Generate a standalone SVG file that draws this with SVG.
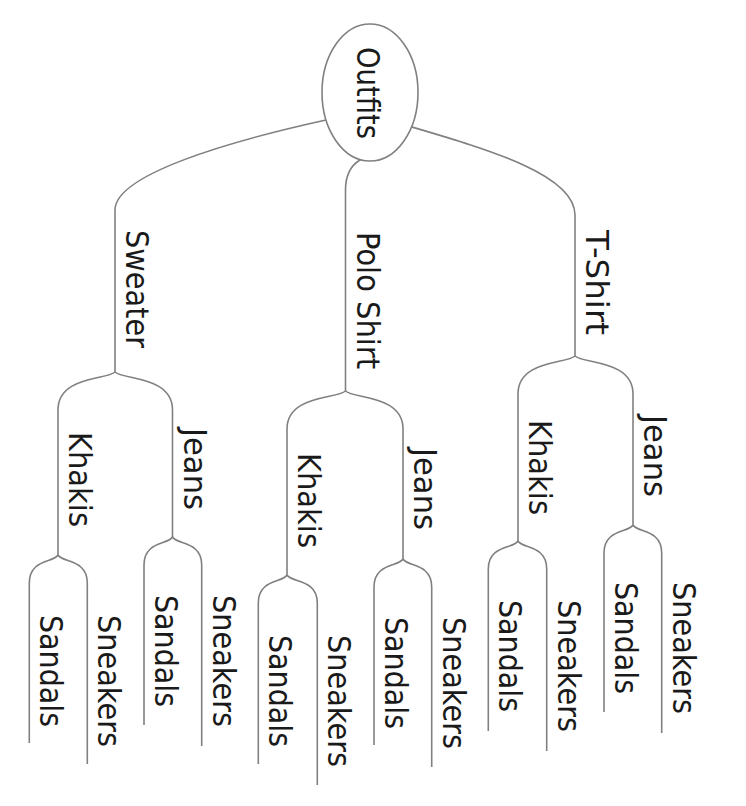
<svg xmlns="http://www.w3.org/2000/svg" width="746" height="806" viewBox="0 0 746 806">
<style>
.bg{fill:#ffffff}
.edge{fill:none;stroke:#808080;stroke-width:1.6}
.node-shape{fill:#ffffff;stroke:#808080;stroke-width:1.6}
.lbl{font-family:"DejaVu Sans","Liberation Sans",sans-serif;font-size:32px;fill:#1a1a1a}
</style>
<rect class="bg" x="0" y="0" width="746" height="806"/>
<g id="connectors">
<path class="edge" d="M326,120 C226,142 115,175 115,210 L115,372"/>
<path class="edge" d="M360,160 C350,166 345.5,175 345.5,190 L345.5,391"/>
<path class="edge" d="M412,127 C490,150 575,175 575,215 L575,356"/>
<path class="edge" d="M115,372 C106.4,380 58,376 58,410 L58,555"/>
<path class="edge" d="M115,372 C123.6,380 172.5,376 172.5,410 L172.5,537"/>
<path class="edge" d="M345.5,391 C336.7,399 287,395 287,429 L287,575"/>
<path class="edge" d="M345.5,391 C354.1,399 403,395 403,429 L403,559"/>
<path class="edge" d="M575,356 C566.5,364 518,360 518,394 L518,541"/>
<path class="edge" d="M575,356 C583.7,364 633,360 633,394 L633,525"/>
<path class="edge" d="M58,555 C53.6,563 29.3,559 29.3,583 L29.3,743"/>
<path class="edge" d="M58,555 C62.4,563 87.3,559 87.3,583 L87.3,764"/>
<path class="edge" d="M172.5,537 C168.2,545 144,541 144,565 L144,725"/>
<path class="edge" d="M172.5,537 C176.8,545 201.7,541 201.7,565 L201.7,746"/>
<path class="edge" d="M287,575 C282.7,583 258.3,579 258.3,603 L258.3,764"/>
<path class="edge" d="M287,575 C291.5,583 317.3,579 317.3,603 L317.3,785"/>
<path class="edge" d="M403,559 C398.6,567 374,563 374,587 L374,745"/>
<path class="edge" d="M403,559 C407.3,567 431.7,563 431.7,587 L431.7,767"/>
<path class="edge" d="M518,541 C513.5,549 488.3,545 488.3,569 L488.3,731"/>
<path class="edge" d="M518,541 C522.3,549 546.7,545 546.7,569 L546.7,751"/>
<path class="edge" d="M633,525 C628.6,533 604,529 604,553 L604,712"/>
<path class="edge" d="M633,525 C637.3,533 661.7,529 661.7,553 L661.7,733"/>
</g>
<g id="outfits">
<ellipse class="node-shape" cx="370" cy="92.5" rx="48" ry="68.5"/>
<text class="lbl" transform="translate(357,47) rotate(90)" textLength="92" lengthAdjust="spacingAndGlyphs">Outfits</text>
</g>
<g id="sweater"><text class="lbl" transform="translate(126,230) rotate(90)" textLength="118" lengthAdjust="spacingAndGlyphs">Sweater</text></g>
<g id="polo-shirt"><text class="lbl" transform="translate(356.5,232) rotate(90)" textLength="137" lengthAdjust="spacingAndGlyphs">Polo Shirt</text></g>
<g id="t-shirt"><text class="lbl" transform="translate(586,230) rotate(90)" textLength="105" lengthAdjust="spacingAndGlyphs">T-Shirt</text></g>
<g id="sweater-khakis"><text class="lbl" transform="translate(69,432) rotate(90)" textLength="95" lengthAdjust="spacingAndGlyphs">Khakis</text></g>
<g id="sweater-jeans"><text class="lbl" transform="translate(184,428) rotate(90)" textLength="82" lengthAdjust="spacingAndGlyphs">Jeans</text></g>
<g id="polo-khakis"><text class="lbl" transform="translate(298,453) rotate(90)" textLength="95" lengthAdjust="spacingAndGlyphs">Khakis</text></g>
<g id="polo-jeans"><text class="lbl" transform="translate(414,448) rotate(90)" textLength="82" lengthAdjust="spacingAndGlyphs">Jeans</text></g>
<g id="tshirt-khakis"><text class="lbl" transform="translate(529,420) rotate(90)" textLength="95" lengthAdjust="spacingAndGlyphs">Khakis</text></g>
<g id="tshirt-jeans"><text class="lbl" transform="translate(644,415) rotate(90)" textLength="82" lengthAdjust="spacingAndGlyphs">Jeans</text></g>
<g id="sweater-khakis-sandals"><text class="lbl" transform="translate(40,615) rotate(90)" textLength="112" lengthAdjust="spacingAndGlyphs">Sandals</text></g>
<g id="sweater-khakis-sneakers"><text class="lbl" transform="translate(98,615) rotate(90)" textLength="132" lengthAdjust="spacingAndGlyphs">Sneakers</text></g>
<g id="sweater-jeans-sandals"><text class="lbl" transform="translate(155,595) rotate(90)" textLength="112" lengthAdjust="spacingAndGlyphs">Sandals</text></g>
<g id="sweater-jeans-sneakers"><text class="lbl" transform="translate(212.7,595) rotate(90)" textLength="132" lengthAdjust="spacingAndGlyphs">Sneakers</text></g>
<g id="polo-khakis-sandals"><text class="lbl" transform="translate(269.3,635) rotate(90)" textLength="112" lengthAdjust="spacingAndGlyphs">Sandals</text></g>
<g id="polo-khakis-sneakers"><text class="lbl" transform="translate(328.3,635) rotate(90)" textLength="132" lengthAdjust="spacingAndGlyphs">Sneakers</text></g>
<g id="polo-jeans-sandals"><text class="lbl" transform="translate(385,617) rotate(90)" textLength="112" lengthAdjust="spacingAndGlyphs">Sandals</text></g>
<g id="polo-jeans-sneakers"><text class="lbl" transform="translate(442.7,617) rotate(90)" textLength="132" lengthAdjust="spacingAndGlyphs">Sneakers</text></g>
<g id="tshirt-khakis-sandals"><text class="lbl" transform="translate(499.3,600) rotate(90)" textLength="112" lengthAdjust="spacingAndGlyphs">Sandals</text></g>
<g id="tshirt-khakis-sneakers"><text class="lbl" transform="translate(557.7,600) rotate(90)" textLength="132" lengthAdjust="spacingAndGlyphs">Sneakers</text></g>
<g id="tshirt-jeans-sandals"><text class="lbl" transform="translate(615,582) rotate(90)" textLength="112" lengthAdjust="spacingAndGlyphs">Sandals</text></g>
<g id="tshirt-jeans-sneakers"><text class="lbl" transform="translate(672.7,582) rotate(90)" textLength="132" lengthAdjust="spacingAndGlyphs">Sneakers</text></g>
</svg>
